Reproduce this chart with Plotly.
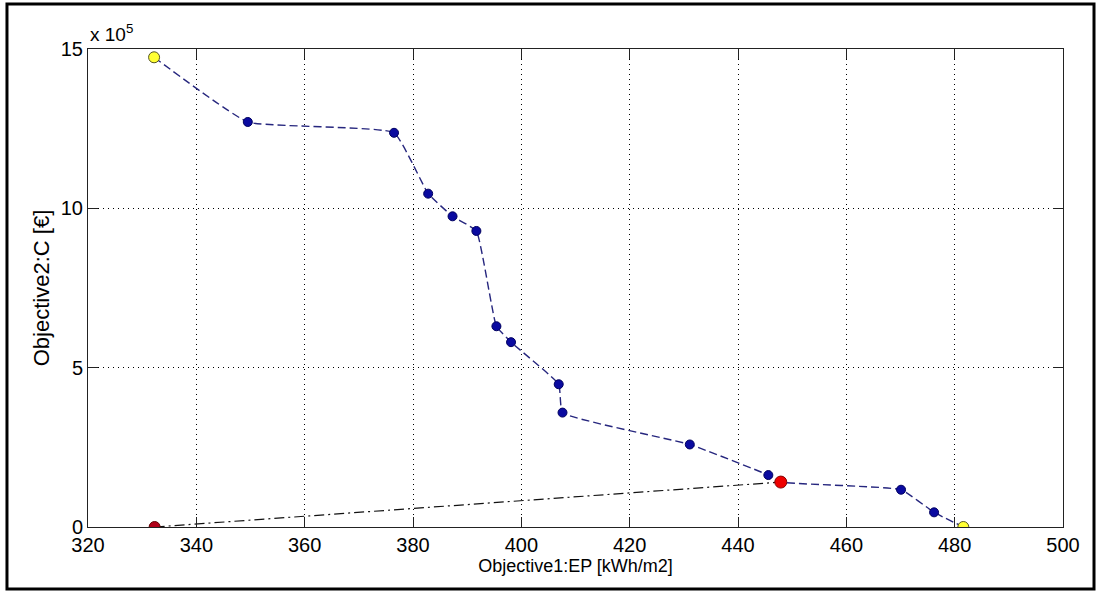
import plotly.graph_objects as go

# Pareto front: energy performance (kWh/m2) vs cost (EUR)
front_ep = [332.2, 349.5, 376.5, 382.8, 387.3, 391.7, 395.4, 398.1, 406.9,
            407.6, 431.1, 445.6, 447.9, 470.1, 476.2, 481.6]
front_cost = [14.74e5, 12.71e5, 12.37e5, 10.46e5, 9.75e5, 9.29e5, 6.30e5,
              5.80e5, 4.48e5, 3.59e5, 2.59e5, 1.63e5, 1.41e5, 1.17e5,
              0.46e5, 0.0]

# extreme solutions of the front
extreme_ep = [332.2, 481.6]
extreme_cost = [14.74e5, 0.0]

# selected compromise solution and utopia point
chosen_ep = [447.9]
chosen_cost = [1.41e5]
utopia_ep = [332.3]
utopia_cost = [0.0]

x_ticks = [320, 340, 360, 380, 400, 420, 440, 460, 480, 500]
y_ticks = [0, 5e5, 10e5, 15e5]
y_tick_text = ["0", "5", "10", "15"]

FONT = "Liberation Sans, Arial, sans-serif"

fig = go.Figure()

# line from utopia point to the chosen solution
fig.add_trace(go.Scatter(
    x=[utopia_ep[0], chosen_ep[0]], y=[utopia_cost[0], chosen_cost[0]],
    mode="lines", line=dict(color="#111111", width=1.2, dash="10px,4px,2px,4px"),
    showlegend=False, hoverinfo="skip"))

# front curve
fig.add_trace(go.Scatter(
    x=front_ep, y=front_cost, mode="lines",
    line=dict(color="#26267e", width=1.4, dash="8px,4px", shape="spline",
              smoothing=0.35),
    showlegend=False))

# interior front points
inner_idx = [i for i in range(1, len(front_ep) - 1) if front_ep[i] != chosen_ep[0]]
fig.add_trace(go.Scatter(
    x=[front_ep[i] for i in inner_idx], y=[front_cost[i] for i in inner_idx],
    mode="markers",
    marker=dict(color="#0a0aa0", size=9, line=dict(color="#000060", width=1)),
    showlegend=False))

fig.add_trace(go.Scatter(
    x=extreme_ep, y=extreme_cost, mode="markers",
    marker=dict(color="#ffff33", size=11, line=dict(color="#555522", width=1)),
    showlegend=False))

fig.add_trace(go.Scatter(
    x=chosen_ep, y=chosen_cost, mode="markers",
    marker=dict(color="#ee0000", size=12, line=dict(color="#880000", width=1)),
    showlegend=False))

fig.add_trace(go.Scatter(
    x=utopia_ep, y=utopia_cost, mode="markers",
    marker=dict(color="#b00018", size=11, line=dict(color="#600000", width=1)),
    showlegend=False))

axis_common = dict(
    showline=True, linecolor="#222222", linewidth=1, mirror="ticks",
    ticks="inside", ticklen=10, tickcolor="#222222", tickwidth=1,
    showgrid=True, gridcolor="#000000", gridwidth=1, griddash="1px,4px",
    zeroline=False, tickfont=dict(family=FONT, size=20, color="#000000"),
)

fig.update_xaxes(
    range=[320, 500], tickmode="array", tickvals=x_ticks,
    title=dict(text="Objective1:EP [kWh/m2]", standoff=3,
               font=dict(family=FONT, size=18, color="#000000")),
    **axis_common)
fig.update_yaxes(
    range=[0, 15e5], tickmode="array", tickvals=y_ticks, ticktext=y_tick_text,
    title=dict(text="Objective2:C [€]", standoff=5,
               font=dict(family=FONT, size=22, color="#000000")),
    **axis_common)

fig.add_annotation(
    text="x 10<sup>5</sup>", xref="paper", yref="paper", x=0.0, y=1.004,
    xanchor="left", yanchor="bottom", showarrow=False,
    font=dict(family=FONT, size=19, color="#000000"))

# outer frame around the figure
fig.add_shape(type="rect", xref="paper", yref="paper",
              x0=-0.0831, x1=1.0318, y0=-0.1297, y1=1.094,
              line=dict(color="#000000", width=3), layer="above")

fig.update_layout(
    width=1099, height=592,
    margin=dict(l=88, r=36, t=49, b=65),
    paper_bgcolor="#ffffff", plot_bgcolor="#ffffff",
    font=dict(family=FONT, color="#000000"),
)

fig.write_html("out.html")
